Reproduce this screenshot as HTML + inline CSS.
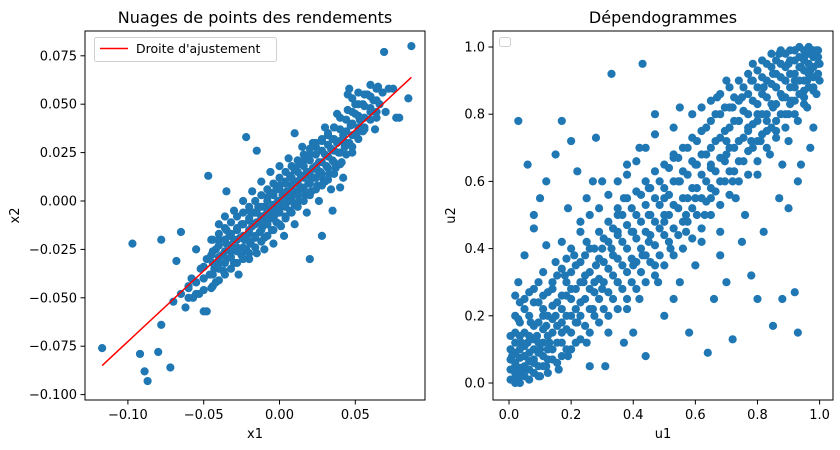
<!DOCTYPE html>
<html><head><meta charset="utf-8"><style>
html,body{margin:0;padding:0;background:#fff;}
svg{display:block;font-family:"DejaVu Sans","Liberation Sans",sans-serif;}
</style></head><body>
<svg id="fig" width="840" height="450" viewBox="0 0 840 450" xmlns="http://www.w3.org/2000/svg">
<rect width="840" height="450" fill="#fff"/>
<g id="left"></g>
<g id="right"></g>
</svg>
<script>
const returnsPoints = [
[-0.117,-0.076],[-0.097,-0.022],[-0.092,-0.079],[-0.089,-0.088],[-0.087,-0.093],[-0.080,-0.078],[-0.078,-0.064],[-0.072,-0.086],[-0.078,-0.020],[-0.070,-0.052],[-0.068,-0.031],[-0.065,-0.016],[-0.055,-0.025],[-0.050,-0.057],[-0.048,-0.057],[-0.047,0.013],[-0.035,0.005],[0.069,0.077],[0.087,0.080],[0.077,0.043],[0.079,0.043],[0.085,0.053],[0.075,0.058],[0.065,0.059],[0.060,0.060],[0.055,0.036],[0.063,0.037],[0.040,0.007],[0.035,-0.005],[0.028,-0.018],[0.020,-0.030],[-0.022,0.033],[-0.015,0.026],[0.010,0.035],[0.045,0.055],[0.050,0.050],
[-0.06,-0.045],[-0.058,-0.04],[-0.055,-0.042],[-0.052,-0.035],[-0.05,-0.04],[-0.048,-0.03],[-0.046,-0.038],[-0.045,-0.028],[-0.043,-0.035],[-0.042,-0.025],[-0.04,-0.032],[-0.04,-0.02],[-0.038,-0.028],[-0.037,-0.036],[-0.035,-0.022],[-0.035,-0.03],[-0.033,-0.018],[-0.032,-0.026],[-0.03,-0.02],[-0.03,-0.032],[-0.028,-0.015],[-0.028,-0.024],[-0.026,-0.019],[-0.025,-0.028],[-0.024,-0.012],[-0.023,-0.02],[-0.022,-0.025],[-0.02,-0.01],[-0.02,-0.017],[-0.019,-0.022],[-0.018,-0.013],[-0.017,-0.006],[-0.016,-0.019],[-0.015,-0.011],[-0.014,-0.003],[-0.013,-0.016],[-0.012,-0.008],[-0.011,-0.013],[-0.01,-0.003],[-0.01,-0.019],[-0.009,-0.007],[-0.008,0.002],[-0.008,-0.012],[-0.007,-0.004],[-0.006,-0.009],[-0.005,0.004],[-0.005,-0.015],[-0.004,-0.002],[-0.003,-0.007],[-0.002,0.006],[-0.002,-0.011],[-0.001,0.0],[0,-0.004],[0,0.008],[0.001,-0.013],[0.002,0.003],[0.003,-0.002],[0.004,0.01],[0.004,-0.008],[0.005,0.005],[0.006,0.0],[0.007,0.013],[0.007,-0.005],[0.008,0.008],[0.009,0.003],[0.01,0.016],[0.01,-0.002],[0.011,0.01],[0.012,0.005],[0.013,0.019],[0.013,0.0],[0.014,0.012],[0.015,0.007],[0.016,0.021],[0.017,0.003],[0.018,0.015],[0.019,0.009],[0.02,0.024],[0.021,0.005],[0.022,0.017],[0.023,0.012],[0.024,0.028],[0.025,0.008],[0.026,0.02],[0.027,0.015],[0.028,0.031],[0.029,0.011],[0.03,0.024],[0.031,0.018],[0.032,0.034],[0.033,0.014],[0.034,0.027],[0.035,0.021],[0.036,0.038],[0.037,0.017],[0.038,0.03],[0.039,0.025],[0.04,0.043],[0.041,0.02],[0.042,0.034],[0.043,0.028],[0.045,0.047],[0.046,0.03],[0.047,0.039],[0.048,0.025],[0.05,0.045],[0.051,0.035],[0.052,0.056],[0.053,0.042],[0.055,0.05],[0.056,0.038],[0.058,0.055],[0.06,0.046],[0.062,0.052],[0.064,0.043],[0.066,0.05],[0.068,0.056],[0.07,0.046],[0.072,0.058],[0.046,0.058],[0.048,0.053],
[-0.065,-0.048],[-0.062,-0.055],[-0.057,-0.05],[-0.053,-0.048],[-0.045,-0.045],[-0.042,-0.042],[-0.04,-0.012],[-0.036,-0.008],[-0.03,-0.005],[-0.027,-0.038],[-0.024,0.0],[-0.02,-0.03],[-0.018,0.005],[-0.015,-0.027],[-0.012,0.01],[-0.01,-0.025],[-0.006,0.015],[-0.004,-0.022],[0,0.018],[0.003,-0.018],[0.006,0.022],[0.01,-0.012],[0.015,0.028],[0.018,-0.006],[0.022,0.03],[0.026,0.0],[0.03,0.038],[0.034,0.006],[0.038,0.045],[0.042,0.012],
[-0.025,-0.012],[-0.02,-0.005],[-0.015,-0.006],[-0.01,-0.009],[-0.005,-0.005],[0.005,0.0],[0.01,0.005],[0.015,0.013],[0.02,0.013],[0.025,0.016],[-0.035,-0.015],[-0.045,-0.02],[0.03,0.01],[0.035,0.032]
];
const returnsCoreColumns = [
[-0.060,[-0.050,-0.044]],[-0.055,[-0.048,-0.042]],[-0.050,[-0.046,-0.040,-0.034]],
[-0.044,[-0.044,-0.038,-0.032,-0.026,-0.020]],[-0.040,[-0.041,-0.035,-0.029,-0.023,-0.017]],
[-0.036,[-0.038,-0.032,-0.026,-0.020,-0.014]],[-0.032,[-0.035,-0.029,-0.023,-0.017,-0.011]],
[-0.028,[-0.032,-0.026,-0.020,-0.014,-0.008]],[-0.024,[-0.030,-0.024,-0.018,-0.012,-0.006]],
[-0.020,[-0.027,-0.021,-0.015,-0.009,-0.003]],[-0.016,[-0.024,-0.018,-0.012,-0.006,0.000]],
[-0.012,[-0.021,-0.015,-0.009,-0.003,0.003]],[-0.008,[-0.018,-0.012,-0.006,0.000,0.006]],
[-0.004,[-0.015,-0.009,-0.003,0.003,0.009]],[0.000,[-0.012,-0.006,0.000,0.006,0.012]],
[0.004,[-0.009,-0.003,0.003,0.009,0.015]],[0.008,[-0.006,0.000,0.006,0.012,0.018]],
[0.012,[-0.003,0.003,0.009,0.015,0.021]],[0.016,[0.000,0.006,0.012,0.018,0.024]],
[0.020,[0.003,0.009,0.015,0.021,0.027]],[0.024,[0.006,0.012,0.018,0.024,0.030]],
[0.028,[0.008,0.014,0.020,0.026,0.032]],[0.032,[0.011,0.017,0.023,0.029,0.035]],
[0.036,[0.014,0.020,0.026,0.032,0.038]],[0.040,[0.019,0.025,0.031,0.037]],
[0.044,[0.024,0.030,0.036,0.042]],[0.048,[0.028,0.034,0.040,0.046]],
[0.052,[0.032,0.038,0.044,0.050]],[0.056,[0.037,0.043,0.049,0.055]],
[0.060,[0.042,0.048,0.054]],[0.064,[0.046,0.052,0.058]]
];
const fitSlope = 0.73;
const fitIntercept = 0.0004;
const fitRange = [-0.117, 0.087];
const leftXTicks = [-0.10,-0.05,0.00,0.05];
const leftXTickLabels = ["\u22120.10","\u22120.05","0.00","0.05"];
const leftYTicks = [0.075,0.05,0.025,0,-0.025,-0.05,-0.075,-0.1];
const leftYTickLabels = ["0.075","0.050","0.025","0.000","\u22120.025","\u22120.050","\u22120.075","\u22120.100"];
const copulaPoints = [
[0.01,0.01],[0.02,0.05],[0.03,0.02],[0.05,0.08],[0.04,0.12],[0.06,0.04],[0.08,0.06],[0.1,0.1],[0.02,0.15],[0.07,0.18],[0.12,0.05],[0.09,0.14],[0.13,0.12],[0.15,0.2],[0.11,0.22],[0.05,0.25],[0.03,0.3],[0.17,0.15],[0.19,0.08],[0.14,0.28],[0.2,0.25],[0.22,0.18],[0.18,0.32],[0.24,0.3],[0.08,0.28],[0.25,0.12],[0.16,0.04],[0.01,0.08],[0.04,0.03],[0.06,0.12],[0.1,0.02],[0.12,0.17],[0.03,0.19],[0.27,0.22],[0.28,0.35],[0.21,0.38],[0.15,0.36],[0.3,0.28],[0.26,0.05],[0.32,0.15],[0.23,0.45],[0.12,0.41],[0.05,0.38],[0.08,0.46],[0.02,0.26],[0.35,0.3],[0.33,0.4],[0.38,0.22],[0.31,0.05],[0.37,0.12],[0.4,0.35],[0.42,0.25],[0.44,0.08],[0.45,0.42],[0.48,0.3],[0.5,0.2],[0.52,0.4],[0.55,0.3],[0.58,0.15],[0.6,0.35],[0.62,0.42],[0.64,0.09],[0.66,0.25],[0.68,0.38],[0.7,0.3],[0.72,0.13],[0.75,0.42],[0.78,0.32],[0.8,0.25],[0.82,0.45],[0.85,0.17],[0.88,0.25],[0.93,0.15],[0.92,0.27],[0.9,0.52],[0.87,0.55],
[0.03,0.78],[0.06,0.65],[0.1,0.55],[0.08,0.5],[0.12,0.6],[0.15,0.68],[0.17,0.78],[0.2,0.72],[0.19,0.52],[0.22,0.63],[0.25,0.55],[0.28,0.73],[0.33,0.92],[0.3,0.6],[0.35,0.5],[0.38,0.65],[0.42,0.7],[0.43,0.95],[0.45,0.58],[0.47,0.8],[0.5,0.55],[0.53,0.67],[0.55,0.82],[0.57,0.5],[0.6,0.65],[0.62,0.75],[0.65,0.55],[0.67,0.85],[0.7,0.68],[0.72,0.6],[0.74,0.78],[0.76,0.5],[0.8,0.62],[0.78,0.72],
[0.4,0.45],[0.45,0.5],[0.5,0.48],[0.55,0.6],[0.6,0.55],[0.35,0.45],[0.3,0.4],[0.25,0.42],[0.65,0.65],[0.7,0.72],[0.47,0.35],[0.53,0.25],[0.57,0.45],[0.63,0.5],[0.68,0.45],[0.73,0.55],[0.4,0.15],[0.43,0.38],[0.37,0.55],[0.27,0.6],
[0.8,0.8],[0.82,0.88],[0.85,0.92],[0.88,0.85],[0.9,0.95],[0.92,0.9],[0.95,0.97],[0.97,0.93],[0.99,0.99],[0.98,0.87],[0.96,0.82],[0.93,0.78],[0.9,0.72],[0.86,0.75],[0.84,0.68],[0.94,0.65],[0.98,0.76],[1.0,0.95],[0.87,0.98],[0.78,0.9],[0.75,0.85],[0.83,0.78],[0.91,0.84],[0.96,0.9],[0.89,0.9],[0.94,0.94],[0.99,0.86],[0.85,0.82],[0.81,0.72],[0.77,0.76],[0.93,0.6],[0.97,0.7],[0.88,0.65],[0.72,0.82],[0.7,0.9],[0.92,0.99],[0.95,0.85],[1.0,0.9],[0.86,0.88],[0.9,0.8]
];
const copulaBandColumns = [
[0.02,[0.0,0.03,0.06,0.09,0.12,0.2]],[0.05,[0.02,0.05,0.08,0.11,0.15,0.22]],
[0.08,[0.03,0.07,0.1,0.13,0.17,0.24]],[0.11,[0.05,0.08,0.12,0.16,0.2,0.26,0.33]],
[0.14,[0.07,0.1,0.15,0.19,0.23,0.3]],[0.17,[0.08,0.12,0.18,0.22,0.26,0.34,0.42]],
[0.2,[0.1,0.15,0.2,0.28,0.33,0.4]],[0.23,[0.13,0.2,0.24,0.3,0.36,0.48]],
[0.26,[0.15,0.22,0.28,0.33,0.4,0.5]],[0.29,[0.18,0.25,0.31,0.37,0.45,0.52]],
[0.32,[0.2,0.27,0.34,0.42,0.48,0.56]],[0.35,[0.22,0.3,0.37,0.44,0.52,0.6]],
[0.38,[0.25,0.33,0.4,0.47,0.55,0.62]],[0.41,[0.28,0.36,0.43,0.5,0.57,0.66]],
[0.44,[0.3,0.38,0.45,0.53,0.6,0.7]],[0.47,[0.32,0.41,0.48,0.55,0.63,0.74]],
[0.5,[0.35,0.44,0.5,0.58,0.65]],[0.53,[0.38,0.46,0.53,0.6,0.68,0.76]],
[0.56,[0.4,0.48,0.55,0.63,0.7]],[0.59,[0.43,0.52,0.58,0.66,0.73,0.8]],
[0.62,[0.46,0.55,0.62,0.68,0.75,0.82]],[0.65,[0.5,0.58,0.64,0.7,0.78,0.84]],
[0.68,[0.53,0.6,0.67,0.73,0.8,0.86]],[0.71,[0.56,0.63,0.7,0.76,0.82,0.88]],
[0.74,[0.6,0.66,0.72,0.78,0.84,0.9]],[0.77,[0.62,0.69,0.75,0.8,0.86,0.92]],
[0.8,[0.66,0.72,0.78,0.83,0.88,0.93]],[0.83,[0.7,0.75,0.8,0.85,0.9,0.95]],
[0.86,[0.73,0.78,0.83,0.88,0.92,0.96]],[0.89,[0.76,0.8,0.85,0.9,0.94,0.98]],
[0.92,[0.8,0.84,0.88,0.92,0.96,0.99]],[0.95,[0.83,0.87,0.9,0.93,0.96,0.99]],
[0.98,[0.88,0.91,0.94,0.97,0.99]]
];
const copulaExtraColumns = [
[0.005,[0.01,0.04,0.07,0.1,0.14]],[0.035,[0.0,0.02,0.045,0.075,0.1,0.14,0.18,0.24]],
[0.065,[0.01,0.04,0.065,0.09,0.14,0.2,0.27]],[0.095,[0.02,0.05,0.09,0.12,0.18,0.24,0.3]],
[0.125,[0.03,0.07,0.1,0.14,0.2,0.27]],[0.155,[0.06,0.12,0.17,0.24,0.32]],
[0.185,[0.1,0.16,0.2,0.26,0.3,0.37]],[0.215,[0.12,0.18,0.22,0.28,0.35]],
[0.245,[0.17,0.25,0.32,0.38]],[0.275,[0.2,0.27,0.3,0.4]],
[0.305,[0.22,0.3,0.36,0.43]],[0.335,[0.25,0.32,0.38,0.46]],
[0.365,[0.28,0.35,0.42,0.5]],[0.395,[0.3,0.37,0.45,0.52]],
[0.425,[0.33,0.4,0.48,0.56]],[0.455,[0.36,0.44,0.5,0.58]],
[0.485,[0.38,0.46,0.53,0.6]],[0.515,[0.42,0.5,0.56,0.64]],
[0.545,[0.44,0.52,0.6,0.67]],[0.575,[0.48,0.55,0.62,0.7]],
[0.605,[0.5,0.58,0.65,0.72]],[0.635,[0.54,0.6,0.68,0.76]],
[0.665,[0.57,0.63,0.72,0.8]],[0.695,[0.6,0.66,0.75,0.82]],
[0.725,[0.63,0.7,0.78,0.85]],[0.755,[0.66,0.73,0.81,0.88]],
[0.785,[0.7,0.77,0.84,0.9,0.95]],[0.815,[0.74,0.8,0.86,0.91,0.96]],
[0.845,[0.76,0.83,0.89,0.94,0.98]],[0.875,[0.8,0.86,0.91,0.95,0.99]],
[0.905,[0.83,0.88,0.92,0.96,0.99]],[0.935,[0.86,0.9,0.94,0.97,1.0]],
[0.965,[0.88,0.92,0.95,0.98,1.0]],[0.995,[0.92,0.95,0.97,0.99]]
];
const rightTicks = [0,0.2,0.4,0.6,0.8,1.0];
const rightTickLabels = ["0.0","0.2","0.4","0.6","0.8","1.0"];

const NS="http://www.w3.org/2000/svg";
function mk(parent, tag, attrs, text){
  const e=document.createElementNS(NS,tag);
  for(const k in attrs) e.setAttribute(k,attrs[k]);
  if(text!==undefined) e.textContent=text;
  parent.appendChild(e); return e;
}
function linear(d0,d1,r0,r1){return v=>r0+(v-d0)*(r1-r0)/(d1-d0);}
function expand(cols){const out=[];cols.forEach(c=>c[1].forEach(v=>out.push([c[0],v])));return out;}

function drawAxes(g, box, sx, sy, xt, xtl, yt, ytl, title, xlab, ylab, ylabX){
  const [L,T,R,B]=box;
  xt.forEach((v,i)=>{
    const x=sx(v);
    const t=mk(g,'line',{x1:x,y1:B,x2:x,y2:B+4.5,stroke:'#000','stroke-width':1});
    
    
    const l=mk(g,'text',{x:x,y:B+19,'font-size':13,'text-anchor':'middle',fill:'#000'},xtl[i]);
    
    
  });
  yt.forEach((v,i)=>{
    const y=sy(v);
    const t=mk(g,'line',{x1:L-4.5,y1:y,x2:L,y2:y,stroke:'#000','stroke-width':1});
    
    
    const l=mk(g,'text',{x:L-8,y:y+4.5,'font-size':13,'text-anchor':'end',fill:'#000'},ytl[i]);
    
    
  });
  const tt=mk(g,'text',{x:(L+R)/2,y:T-8,'font-size':16,'text-anchor':'middle',fill:'#000'},title);
  
  
  const xl=mk(g,'text',{x:(L+R)/2,y:B+38,'font-size':13,'text-anchor':'middle',fill:'#000'},xlab);
  
  
  const yy=(T+B)/2;
  const yl=mk(g,'text',{x:ylabX,y:yy,'font-size':13,'text-anchor':'middle',fill:'#000',transform:`rotate(-90 ${ylabX} ${yy})`},ylab);
  
  
}

(function(){
  const g=document.getElementById('left');
  const box=[85,31,425,400];
  const sx=linear(0,0.05,279.5,355.3);
  const sy=linear(0,0.025,201,152.6);
  const pts=mk(g,'g',{});
  
  
  returnsPoints.concat(expand(returnsCoreColumns)).forEach(p=>{
    const c=mk(pts,'circle',{cx:sx(p[0]),cy:sy(p[1]),r:4.1,fill:'#1f77b4'});
    
    
  });
  const ln=mk(g,'line',{x1:sx(fitRange[0]),y1:sy(fitSlope*fitRange[0]+fitIntercept),x2:sx(fitRange[1]),y2:sy(fitSlope*fitRange[1]+fitIntercept),stroke:'#ff0000','stroke-width':1.5});
  
  
  const fr=mk(g,'rect',{x:85,y:31,width:340,height:369,fill:'none',stroke:'#000','stroke-width':1});
  
  
  drawAxes(g,box,sx,sy,leftXTicks,leftXTickLabels,leftYTicks,leftYTickLabels,'Nuages de points des rendements','x1','x2',19);
  const lg=mk(g,'g',{});
  
  
  mk(lg,'rect',{x:94.5,y:37.5,width:182,height:24,rx:2,fill:'#fff','fill-opacity':0.8,stroke:'#d0d0d0','stroke-width':1});
  mk(lg,'line',{x1:100,y1:48.5,x2:128,y2:48.5,stroke:'#ff0000','stroke-width':1.5});
  const lt=mk(lg,'text',{x:136,y:53,'font-size':12.5,fill:'#000'},"Droite d'ajustement");
  
  
})();

(function(){
  const g=document.getElementById('right');
  const box=[493,31,833,400];
  const sx=linear(0,1,509,819.6);
  const sy=linear(0,1,383,47);
  const pts=mk(g,'g',{});
  
  
  copulaPoints.concat(expand(copulaBandColumns),expand(copulaExtraColumns)).forEach(p=>{
    const c=mk(pts,'circle',{cx:sx(p[0]),cy:sy(p[1]),r:4.1,fill:'#1f77b4'});
    
    
  });
  const fr=mk(g,'rect',{x:493,y:31,width:340,height:369,fill:'none',stroke:'#000','stroke-width':1});
  
  
  drawAxes(g,box,sx,sy,rightTicks,rightTickLabels,rightTicks,rightTickLabels,'Dépendogrammes','u1','u2',455);
  const lg=mk(g,'rect',{x:499.5,y:37.5,width:11,height:9,rx:2,fill:'#fff',stroke:'#d0d0d0','stroke-width':1});
  
  
})();
</script>
</body></html>
